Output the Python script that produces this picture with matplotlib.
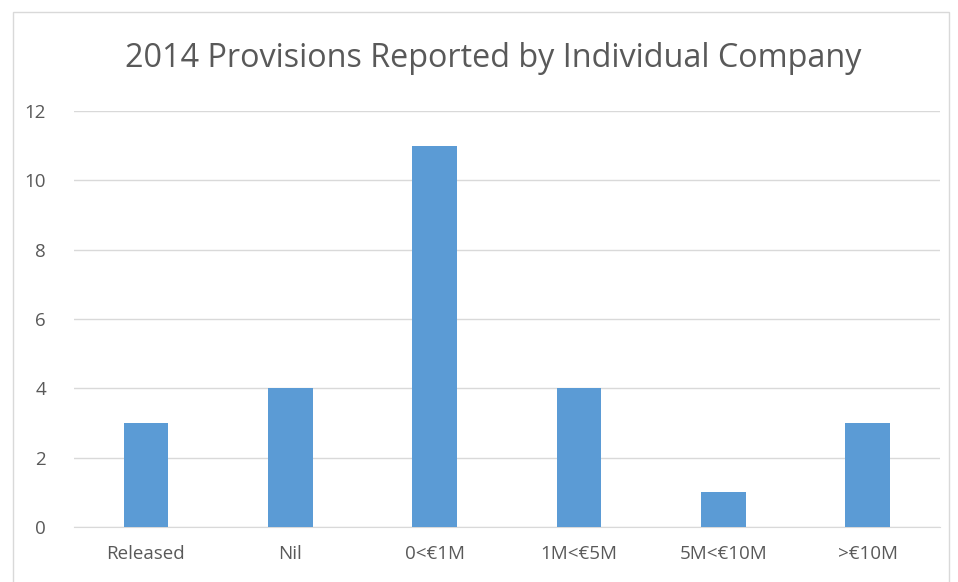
import matplotlib.pyplot as plt
from matplotlib.patches import Rectangle

categories = ["Released", "Nil", "0<€1M", "1M<€5M", "5M<€10M", ">€10M"]
counts = [3, 4, 11, 4, 1, 3]
yticks = [0, 2, 4, 6, 8, 10, 12]

plt.rcParams["font.family"] = ["Open Sans", "DejaVu Sans"]

fig = plt.figure(figsize=(9.58, 5.82), dpi=100)
ax = fig.add_axes([0.077, 0.0945, 0.904, 0.7145])

ax.bar(range(len(categories)), counts, width=0.31, color="#5B9BD5", zorder=3)
ax.set_xlim(-0.5, len(categories) - 0.5)
ax.set_ylim(0, 12)
ax.set_yticks(yticks)
ax.set_xticks(range(len(categories)))
ax.set_xticklabels(categories)
ax.grid(axis="y", color="#D9D9D9", lw=1, zorder=0)
for s in ["top", "right", "left"]:
    ax.spines[s].set_visible(False)
ax.spines["bottom"].set_color("#D9D9D9")
ax.tick_params(length=0, labelsize=13.5, colors="#595959")
ax.tick_params(axis="x", pad=13)
ax.tick_params(axis="y", pad=20)

fig.text(0.515, 0.9, "2014 Provisions Reported by Individual Company",
         ha="center", va="center", fontsize=23.3, color="#595959")

# chart border
fig.patches.append(Rectangle((0.0135, -0.01), 0.977, 0.99, transform=fig.transFigure,
                             fill=False, edgecolor="#D9D9D9", lw=1))

fig.savefig("out.png", dpi=100)
